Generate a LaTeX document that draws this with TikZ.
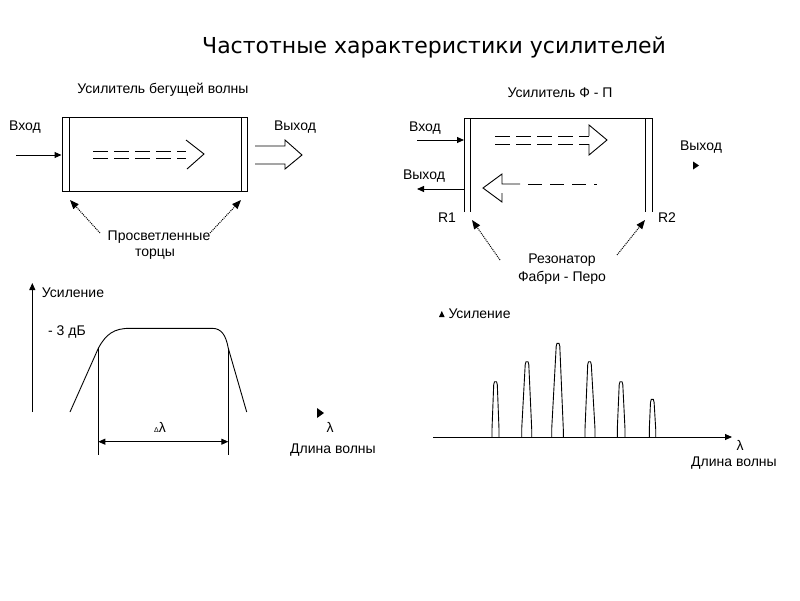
\documentclass[tikz,border=0pt]{standalone}
\usepackage{fontspec}
\setmainfont{Liberation Sans}
\newfontfamily\titlefont{DejaVu Sans}
\usetikzlibrary{arrows.meta}
\newcommand\mypeak[4]{%
  \draw[thinl] (#1,437) -- (#1,429) -- ({#3-1.8},{#4+3}) -- ({#3-1},{#4}) -- ({#3+1},{#4}) -- ({#3+1.8},{#4+3}) -- (#2,429) -- (#2,437);}
\begin{document}
\begin{tikzpicture}[x=1pt,y=-1pt,line width=1pt,
  lbl/.style={font=\fontsize{14}{16}\selectfont, inner sep=0pt},
  thinl/.style={line width=0.9pt},
  arr/.style={-{Triangle[length=7pt,width=6pt]}},
  dotarr/.style={densely dotted,-{Triangle[length=9pt,width=7pt]}},
  dimarr/.style={{Triangle[length=7pt,width=6pt]}-{Triangle[length=7pt,width=6pt]}},
  dsh/.style={dash pattern=on 15pt off 6pt}]
\useasboundingbox[fill=white] (0,0) rectangle (800,600);

% title
\node[font=\titlefont\fontsize{22}{26}\selectfont, inner sep=0pt] (title) at (434,47) {Частотные характеристики усилителей};

% ---------- travelling wave amplifier ----------
\node[lbl] (twaT) at (163,90) {Усилитель бегущей волны};
\node[draw, minimum width=185pt, minimum height=74pt, inner sep=0pt] (twa) at (154.5,154.5) {};
\draw (69,117.5) -- (69,191.5);
\draw (241,117.5) -- (241,191.5);
\node[lbl] (twaIn) at (25,127) {Вход};
\coordinate (twaInS) at (16,155);
\draw[arr] (twaInS) -- (twaInS -| twa.west);
\node[lbl] (twaOut) at (295,127) {Выход};
% hollow output arrow
\draw[thinl] (255,146) -- (285,146) -- (285,140) -- (302,155) -- (285,169) -- (285,164) -- (255,164);
% dashed double arrow inside
\draw[thinl,dsh] (93,151.7) -- (186,151.7);
\draw[thinl,dsh] (93,158.3) -- (186,158.3);
\draw[thinl] (186,140) -- (204,154) -- (187,169);
% facets
\node[lbl] (facet1) at (159,237) {Просветленные};
\node[lbl] (facet2) at (155,254) {торцы};
\coordinate (fa1) at (100,233); \coordinate (fb1) at (70,200);
\coordinate (fa2) at (210,233); \coordinate (fb2) at (241,200);
\draw[dotarr] (fa1) -- (fb1);
\draw[dotarr] (fa2) -- (fb2);

% ---------- Fabry-Perot amplifier ----------
\node[lbl] (fpT) at (560,93) {Усилитель Ф - П};
\draw (464,212) -- (464,118) -- (652,118) -- (652,212);
\draw (470,118) -- (470,212);
\draw (645,118) -- (645,212);
\node[lbl] (fpIn) at (425,128) {Вход};
\coordinate (fpInS) at (417,140); \coordinate (fpInE) at (464,140);
\draw[arr] (fpInS) -- (fpInE);
\node[lbl] (fpOut) at (424,176) {Выход};
\coordinate (fpOutS) at (464,189); \coordinate (fpOutE) at (417,189);
\draw[arr] (fpOutS) -- (fpOutE);
\node[lbl] (fpOut2) at (701,147) {Выход};
\fill (693,161.5) -- (699,165.5) -- (693,169.5) -- cycle;
% forward dashed double arrow
\draw[thinl,dsh] (495,136) -- (589,136);
\draw[thinl,dsh] (495,144) -- (589,144);
\draw[thinl] (589,136) -- (589,125) -- (607,140) -- (589,155) -- (589,144);
% backward arrow
\draw[thinl] (520,184) -- (502,184) -- (502,174) -- (483,188) -- (502,202) -- (502,193);
\draw[thinl,dash pattern=on 14pt off 8pt] (528,184.5) -- (597,184.5);
\node[lbl] (R1) at (447,218) {R1};
\node[lbl] (R2) at (667,218) {R2};
\node[lbl] (res1) at (562,260) {Резонатор};
\node[lbl] (res2) at (562,278) {Фабри - Перо};
\coordinate (ra1) at (500,260); \coordinate (rb1) at (472,220);
\coordinate (ra2) at (617,255); \coordinate (rb2) at (645,220);
\draw[dotarr] (ra1) -- (rb1);
\draw[dotarr] (ra2) -- (rb2);

% ---------- left gain graph ----------
\coordinate (yax0) at (32.3,412); \coordinate (yax1) at (32.3,283);
\draw[thinl,arr] (yax0) -- (yax1);
\node[lbl] (gL) at (73,293) {Усиление};
\node[lbl] (db3) at (67,332) {- 3 дБ};
\draw[thinl] (70,412) -- (98.3,348.3) .. controls (106,334) and (114,328.3) .. (130,328.3)
  -- (212,328.3) .. controls (222,328.3) and (226,336) .. (228.3,348.3) -- (246.7,412);
\coordinate (vl0) at (98.3,348.3); \coordinate (vl1) at (98.3,455);
\coordinate (vr0) at (228.3,348.3); \coordinate (vr1) at (228.3,455);
\draw[thinl] (vl0) -- (vl1);
\draw[thinl] (vr0) -- (vr1);
\coordinate (dl) at (98.3,441.7); \coordinate (dr) at (228.3,441.7);
\draw[thinl,dimarr] (dl) -- (dr);
\node[lbl] (dlam) at (160,427) {{\fontsize{7}{8}\selectfont Δ}λ};
\fill (317,408) -- (324,413) -- (317,418) -- cycle;
\node[lbl] (lamL) at (330,427) {λ};
\node[lbl] (wlL) at (333,450) {Длина волны};

% ---------- right gain graph ----------
\fill (439,317) -- (441.8,311) -- (444.6,317) -- cycle;
\node[lbl,anchor=west] (gR) at (448,314) {Усиление};
\coordinate (xax0) at (433,437); \coordinate (xax1) at (732,437);
\draw[thinl,arr] (xax0) -- (xax1);
\mypeak{492}{499}{495.5}{381.7}
\mypeak{521.7}{531.7}{527}{361.7}
\mypeak{551.7}{563.3}{558}{343.3}
\mypeak{585}{595}{589.5}{361.7}
\mypeak{617.3}{625}{621}{381.7}
\mypeak{649.3}{655.7}{652.3}{399.3}
\node[lbl] (lamR) at (740,445) {λ};
\node[lbl] (wlR) at (734,463) {Длина волны};
\end{tikzpicture}
\end{document}
